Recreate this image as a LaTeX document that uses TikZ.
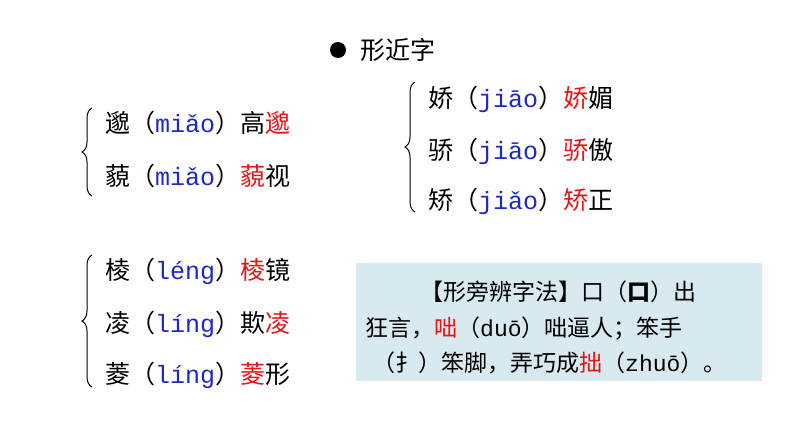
\documentclass[tikz,border=0pt]{standalone}
\usepackage{fontspec}
\setmainfont{Noto Sans CJK SC}
\newfontfamily\py{Liberation Mono}
\usetikzlibrary{decorations.pathreplacing}
\definecolor{pyblue}{RGB}{30,40,200}
\definecolor{hl}{RGB}{230,20,20}
\definecolor{boxbg}{RGB}{216,234,240}
\newcommand{\pyb}[1]{{\py\color{pyblue}#1}}
\newcommand{\redc}[1]{{\color{hl}#1}}
\tikzset{row/.style={anchor=base west,inner sep=0pt,font=\fontsize{25}{28}\selectfont},
 brc/.style={decorate,decoration={brace,amplitude=10pt,mirror},line width=1pt},
 boxt/.style={anchor=base west,inner sep=0pt,font=\fontsize{23}{26}\selectfont}}
\begin{document}
\begin{tikzpicture}[x=1pt,y=-1pt]
\useasboundingbox (0,0) rectangle (794,447);
\fill (338,50) circle (8) node[row,anchor=west,xshift=22pt] (t) {形近字};
\node[row] (a1) at (105,132) {邈（\pyb{miǎo}）高\redc{邈}};
\node[row] (a2) at (105,185) {藐（\pyb{miǎo}）\redc{藐}视};
\draw[brc] (92,108) -- (92,196);
\node[row] (b1) at (428,107) {娇（\pyb{jiāo}）\redc{娇}媚};
\node[row] (b2) at (428,159) {骄（\pyb{jiāo}）\redc{骄}傲};
\node[row] (b3) at (428,209) {矫（\pyb{jiǎo}）\redc{矫}正};
\draw[brc] (415,82) -- (415,212);
\node[row] (c1) at (105,279) {棱（\pyb{léng}）\redc{棱}镜};
\node[row] (c2) at (105,332) {凌（\pyb{líng}）欺\redc{凌}};
\node[row] (c3) at (105,383) {菱（\pyb{líng}）\redc{菱}形};
\draw[brc] (92,255) -- (92,387);
\fill[boxbg] (356,263) rectangle (762,381);
\node[boxt] (d1) at (420,300) {【形旁辨字法】口（{\bfseries 口}）出};
\node[boxt] (d2) at (365,336) {狂言，\redc{咄}（{\py duō}）咄逼人；笨手};
\node[boxt] (d3) at (372,371) {（扌）笨脚，弄巧成\redc{拙}（{\py zhuō}）。};
\end{tikzpicture}
\end{document}
